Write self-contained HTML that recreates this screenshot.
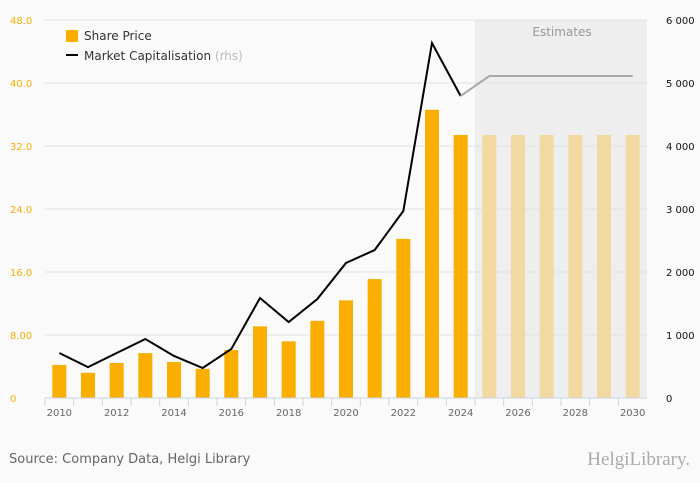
<!DOCTYPE html>
<html><head><meta charset="utf-8"><style>
body{margin:0;background:#fafafa;font-family:"Liberation Sans","DejaVu Sans",sans-serif;overflow:hidden}
svg{display:block}
svg text{font-family:"DejaVu Sans","Liberation Sans",sans-serif}
svg text.logo{font-family:"Liberation Serif",serif}
</style></head><body>
<svg id="c" width="700" height="483" viewBox="0 0 700 483" xmlns="http://www.w3.org/2000/svg">
<rect width="700" height="483" fill="#fafafa"/>
<rect x="475" y="20" width="172" height="378" fill="#eeeeee"/>
<text x="562" y="36" font-size="12" fill="#999" text-anchor="middle">Estimates</text>
<g id="grid"></g><g id="bars"></g><g id="lines"></g><g id="axes"></g>
<g>
<rect x="66" y="30" width="12" height="12" fill="#f9ae00"/>
<text x="84" y="40" font-size="12" fill="#333">Share Price</text>
<rect x="66" y="54" width="12" height="2" fill="#000"/>
<text x="84" y="60" font-size="12" fill="#333">Market Capitalisation <tspan fill="#bbb">(rhs)</tspan></text>
</g>
<text x="9" y="463" font-size="13" fill="#666">Source: Company Data, Helgi Library</text>
<text class="logo" x="690" y="465" font-size="19" fill="#aaa" text-anchor="end">HelgiLibrary.</text>
</svg>
<script>
const years=[2010,2011,2012,2013,2014,2015,2016,2017,2018,2019,2020,2021,2022,2023,2024,2025,2026,2027,2028,2029,2030];
const sharePrice=[4.2,3.2,4.45,5.7,4.57,3.7,6.1,9.1,7.2,9.8,12.4,15.1,20.2,36.6,33.4,33.4,33.4,33.4,33.4,33.4,33.4];
const marketCap=[714,490,714,936,667,476,778,1587,1206,1571,2143,2349,2968,5635,4794,5111,5111,5111,5111,5111,5111];
const firstEstimate=2025;
const leftTicks=[0,8,16,24,32,40,48];
const leftLabels=["0","8.00","16.0","24.0","32.0","40.0","48.0"];
const rightTicks=[0,1000,2000,3000,4000,5000,6000];
const rightLabels=["0","1 000","2 000","3 000","4 000","5 000","6 000"];
const X0=45,X1=647,Y0=398,Y1=20,NS="http://www.w3.org/2000/svg";
const bw=(X1-X0)/years.length;
const xc=i=>X0+bw*(i+0.5);
const yl=v=>Y0-(v/48)*(Y0-Y1);
const yr=v=>Y0-(v/6000)*(Y0-Y1);
function mk(p,t,a){const e=document.createElementNS(NS,t);for(const k in a)e.setAttribute(k,a[k]);document.getElementById(p).appendChild(e);return e;}
leftTicks.forEach((t,i)=>{
 if(i>0){const g=mk('grid','line',{x1:X0,x2:X1,y1:yl(t),y2:yl(t),stroke:'#e3e3e3','stroke-width':1});
 
 }
 const l=mk('axes','text',{x:10,y:yl(t)+4,'font-size':10,fill:'#f9ae00'});l.textContent=leftLabels[i];
 
 
});
rightTicks.forEach((t,i)=>{
 const l=mk('axes','text',{x:666,y:yr(t)+4,'font-size':10,fill:'#111'});l.textContent=rightLabels[i];
 
 
});
years.forEach((y,i)=>{
 const est=y>=firstEstimate;
 const b=mk('bars','rect',{x:xc(i)-7,y:yl(sharePrice[i]),width:14,height:Y0-yl(sharePrice[i]),fill:est?'#f2d9a2':'#f9ae00'});
 
 
 const tk=mk('axes','line',{x1:X0+bw*i,x2:X0+bw*i,y1:Y0,y2:Y0+8,stroke:'#c8d4e6'});
 
 
 if(i%2==0){const t=mk('axes','text',{x:xc(i),y:Y0+18,'font-size':10,fill:'#666','text-anchor':'middle'});t.textContent=y;
 
 }
});
const ax=mk('axes','line',{x1:X0,x2:X1,y1:Y0,y2:Y0,stroke:'#c8d4e6'});


const ei=years.indexOf(firstEstimate);
let pa=[],pe=[];
years.forEach((y,i)=>{const p=xc(i)+','+yr(marketCap[i]);if(i<ei)pa.push(p);if(i>=ei-1)pe.push(p);});
const l1=mk('lines','polyline',{points:pa.join(' '),fill:'none',stroke:'#000','stroke-width':2});


const l2=mk('lines','polyline',{points:pe.join(' '),fill:'none',stroke:'#a8a8a8','stroke-width':2});


</script>
</body></html>
